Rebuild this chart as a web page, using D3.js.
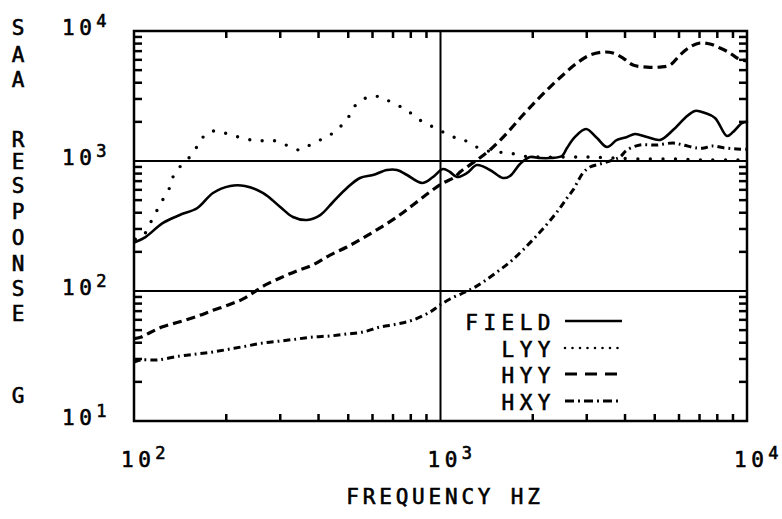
<!DOCTYPE html>
<html>
<head>
<meta charset="utf-8">
<script src="https://cdn.jsdelivr.net/npm/d3@7"></script>
<style>
  html, body { margin: 0; padding: 0; background: #fff; }
  svg text { font-family: "DejaVu Sans Mono", monospace; fill: #000; stroke: #000; stroke-width: 0.6px; }
</style>
</head>
<body>
<script>
// ---------------- data ----------------
const xMajorTicks = [1e2, 1e3, 1e4];
const xTickExponents = ["2", "3", "4"];
const yMajorTicks = [1e1, 1e2, 1e3, 1e4];
const yTickExponents = ["1", "2", "3", "4"];
const yTitleLetters = ["S","A","A","","R","E","S","P","O","N","S","E","","","G"];
const xTitle = "FREQUENCY HZ";
const seriesNames = ["FIELD", "LYY", "HYY", "HXY"];

const fieldFreq = [101,109,124,141,161,181,206,230,264,300,330,367,405,446,495,546,602,669,721,778,871,945,1019,1074,1132,1221,1315,1450,1599,1686,1817,1959,2112,2277,2491,2586,2747,2984,3240,3493,3766,4060,4312,4718,5202,5736,6277,6767,7295,7864,8605,9001,9632,10000];
const fieldVal  = [238,260,333,384,435,567,642,642,567,443,371,352,384,484,620,740,780,853,853,780,677,753,868,823,753,809,931,853,740,767,948,1073,1054,1054,1092,1259,1531,1762,1503,1282,1452,1531,1614,1531,1452,1731,2143,2427,2339,2143,1556,1671,1959,1995];

const lyyFreq = [101,107,113,119,124,131,134,141,154,164,173,188,206,227,252,278,304,323,348,375,405,436,470,499,518,546,589,635,669,721,778,813,877,945,1019,1099,1158,1276,1376,1529,1686,1858,2112,2586,3075,3654,4476,5736,7237,9277,10000];
const lyyVal  = [250,265,333,420,501,631,753,899,1112,1400,1641,1702,1585,1503,1425,1452,1375,1282,1216,1328,1452,1585,1827,2143,2558,2844,3162,3105,2942,2698,2466,2259,1995,1827,1671,1531,1503,1328,1216,1172,1152,1092,1073,1073,1073,1054,1036,1036,1018,1018,1018];

const hyyFreq = [100,105,113,124,141,161,181,206,227,245,264,300,340,384,436,495,559,635,721,813,924,1019,1115,1158,1315,1450,1648,1858,2065,2277,2510,2789,3075,3402,3654,3939,4246,4718,5202,5609,6045,6516,7025,7573,8165,8802,9277,10000];
const hyyVal  = [43,44,48,53,58,64,71,79,87,97,109,126,143,159,189,218,256,306,371,459,578,677,753,823,1018,1216,1641,2259,2942,3707,4589,5675,6533,6887,6773,6196,5470,5281,5281,5470,6533,7533,8090,7943,7396,6773,6196,5875];

const hxyFreq = [100,105,119,141,161,181,206,234,264,300,340,384,436,495,559,635,721,813,924,996,1074,1184,1276,1376,1529,1686,1858,2112,2328,2454,2586,2706,2917,3075,3314,3654,3851,4060,4476,5087,5736,6183,6869,7237,7689,8478,9277,10000];
const hxyVal  = [28.4,29.5,29.5,31.6,32.8,34,35.8,37.8,39.8,41.2,42.7,44.3,45.1,46.7,48.4,52.8,55.7,59.8,68.9,78,86.8,96.5,105,117,140,167,207,284,371,435,519,598,809,899,948,1018,1073,1216,1328,1328,1375,1328,1259,1259,1303,1259,1236,1230];

// ---------------- layout ----------------
const W = 782, H = 519;
const L = 134, R = 747, T = 31, B = 421;

const svg = d3.select("body").append("svg").attr("width", W).attr("height", H);

const x = d3.scaleLog().domain([1e2, 1e4]).range([L, R]);
const y = d3.scaleLog().domain([1e1, 1e4]).range([B, T]);

function minorTicks(lo, hi) {
  const out = [];
  for (let d = lo; d < hi; d *= 10) for (let k = 2; k <= 9; k++) out.push(d * k);
  return out;
}
const xMinor = minorTicks(1e2, 1e4);
const yMinor = minorTicks(1e1, 1e4);

// inward minor ticks on all four sides
const tk = svg.append("g").attr("stroke", "#000").attr("stroke-width", 2.5);
tk.selectAll("line.yl").data(yMinor).join("line").attr("class", "yl")
  .attr("x1", L).attr("x2", L + 8).attr("y1", d => y(d)).attr("y2", d => y(d));
tk.selectAll("line.yr").data(yMinor).join("line").attr("class", "yr")
  .attr("x1", R).attr("x2", R - 8).attr("y1", d => y(d)).attr("y2", d => y(d));
tk.selectAll("line.xt").data(xMinor).join("line").attr("class", "xt")
  .attr("x1", d => x(d)).attr("x2", d => x(d)).attr("y1", T).attr("y2", T + 7);
tk.selectAll("line.xb").data(xMinor).join("line").attr("class", "xb")
  .attr("x1", d => x(d)).attr("x2", d => x(d)).attr("y1", B).attr("y2", B - 7);

// grid lines at interior decades
svg.append("g").selectAll("line").data([1e2, 1e3]).join("line")
  .attr("x1", L).attr("x2", R).attr("y1", d => y(d)).attr("y2", d => y(d))
  .attr("stroke", "#000").attr("stroke-width", 2);
svg.append("g").selectAll("line").data([1e3]).join("line")
  .attr("x1", d => x(d)).attr("x2", d => x(d)).attr("y1", T).attr("y2", B)
  .attr("stroke", "#000").attr("stroke-width", 2);

// frame
svg.append("rect").attr("x", L).attr("y", T).attr("width", R - L).attr("height", B - T)
  .attr("fill", "none").attr("stroke", "#000").attr("stroke-width", 2.5);

// tick labels
function powLabel(sel, exp) {
  sel.append("tspan").text("10");
  sel.append("tspan").attr("dy", -8).attr("font-size", 17).text(exp);
}
svg.append("g").selectAll("text").data(yMajorTicks).join("text")
  .attr("x", 62).attr("y", d => y(d) + 4)
  .attr("font-size", 21).attr("letter-spacing", 4.5)
  .each(function(d, i) { powLabel(d3.select(this), yTickExponents[i]); });
svg.append("g").selectAll("text").data(xMajorTicks).join("text")
  .attr("x", d => x(d) - 13).attr("y", 467)
  .attr("font-size", 21).attr("letter-spacing", 4.5)
  .each(function(d, i) { powLabel(d3.select(this), xTickExponents[i]); });

// axis titles
svg.append("text").attr("x", 445).attr("y", 504).attr("text-anchor", "middle")
  .attr("font-size", 21).attr("letter-spacing", 3.8).text(xTitle);
const yTitleBase = [35, 62, 87, 0, 147, 169, 193, 219, 245, 271, 296, 321, 0, 0, 403];
svg.append("g").selectAll("text").data(yTitleLetters).join("text")
  .attr("x", 18).attr("y", (d, i) => yTitleBase[i]).attr("text-anchor", "middle")
  .attr("font-size", 21).text(d => d);

// curves
const line = d3.line().x(d => x(d[0])).y(d => y(d[1])).curve(d3.curveCatmullRom.alpha(0.5));
const zip = (a, b) => a.map((v, i) => [v, b[i]]);
const styles = [
  { w: 2.6, dash: null, cap: "round" },
  { w: 3.4, dash: "0 12.5", cap: "round" },
  { w: 3.2, dash: "9 5", cap: "butt" },
  { w: 3.0, dash: "7 4 1.8 4", cap: "butt" }
];
const seriesData = [zip(fieldFreq, fieldVal), zip(lyyFreq, lyyVal), zip(hyyFreq, hyyVal), zip(hxyFreq, hxyVal)];
svg.append("g").selectAll("path").data(seriesData).join("path")
  .attr("d", line)
  .attr("fill", "none").attr("stroke", "#000")
  .attr("stroke-width", (d, i) => styles[i].w)
  .attr("stroke-dasharray", (d, i) => styles[i].dash)
  .attr("stroke-linecap", (d, i) => styles[i].cap)
  .attr("stroke-linejoin", "round");

// legend
const legendStyles = [
  { w: 2.4, dash: null, cap: "butt" },
  { w: 2.6, dash: "0 7.5", cap: "round" },
  { w: 2.8, dash: "12 8", cap: "butt" },
  { w: 2.8, dash: "9 4 2 4", cap: "butt" }
];
const legRowY = [330, 357, 383, 410];
const lg = svg.append("g");
lg.selectAll("text").data(seriesNames).join("text")
  .attr("x", 556).attr("y", (d, i) => legRowY[i]).attr("text-anchor", "end")
  .attr("font-size", 21).attr("letter-spacing", 5.5).text(d => d);
lg.selectAll("line").data(seriesNames).join("line")
  .attr("x1", 565).attr("x2", 622)
  .attr("y1", (d, i) => legRowY[i] - 9).attr("y2", (d, i) => legRowY[i] - 9)
  .attr("stroke", "#000")
  .attr("stroke-width", (d, i) => legendStyles[i].w)
  .attr("stroke-dasharray", (d, i) => legendStyles[i].dash)
  .attr("stroke-linecap", (d, i) => legendStyles[i].cap);
</script>
</body>
</html>
